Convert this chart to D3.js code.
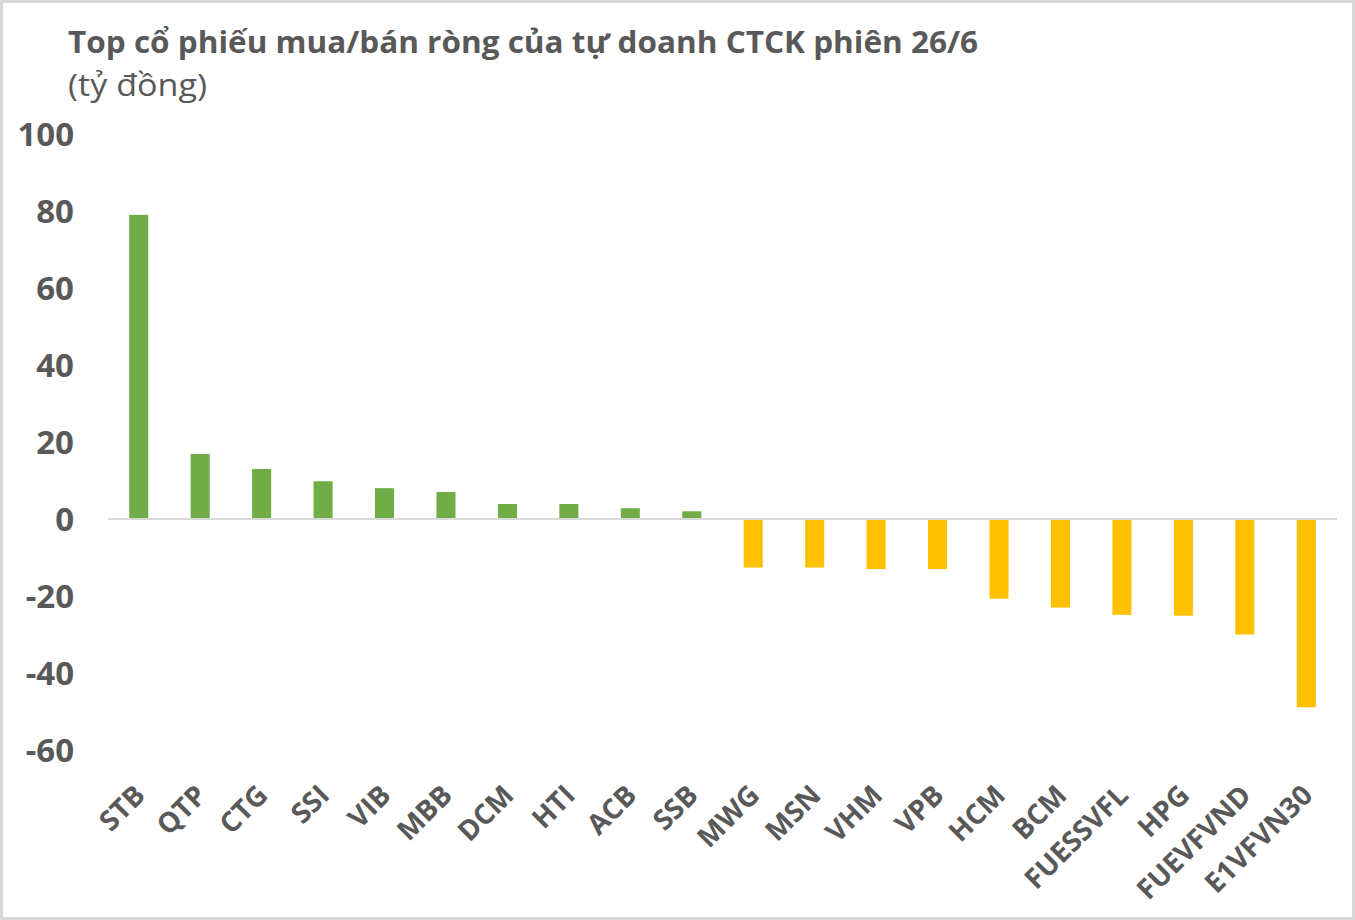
<!DOCTYPE html>
<html>
<head>
<meta charset="utf-8">
<script src="https://cdn.jsdelivr.net/npm/d3@7"></script>
<style>
  html, body { margin: 0; padding: 0; background: #fff; }
  svg { display: block; }
</style>
</head>
<body>
<svg id="chart" width="1355" height="920"></svg>
<script>
const categories = ["STB","QTP","CTG","SSI","VIB","MBB","DCM","HTI","ACB","SSB","MWG","MSN","VHM","VPB","HCM","BCM","FUESSVFL","HPG","FUEVFVND","E1VFVN30"];
const values = [79, 16.9, 13, 9.8, 8, 7, 3.9, 3.9, 2.8, 2, -12.6, -12.6, -13, -13, -20.7, -23, -24.9, -25.1, -30, -48.9];
const yTicks = [100, 80, 60, 40, 20, 0, -20, -40, -60];
const titleText = "Top cổ phiếu mua/bán ròng của tự doanh CTCK phiên 26/6";
const subtitleText = "(tỷ đồng)";

const W = 1355, H = 920;
const svg = d3.select("#chart");
const gray = "#595959";

// outer border
svg.append("rect").attr("x", 1.5).attr("y", 1.5).attr("width", W - 3).attr("height", H - 3)
  .attr("fill", "#fff").attr("stroke", "#d9d9d9").attr("stroke-width", 3);

// title
svg.append("text").attr("x", 68).attr("y", 53)
  .attr("font-family", "'Open Sans', sans-serif").attr("font-weight", 700)
  .attr("font-size", 31).attr("fill", gray)
  .attr("textLength", 910).attr("lengthAdjust", "spacingAndGlyphs")
  .text(titleText);
svg.append("text").attr("x", 68).attr("y", 96)
  .attr("font-family", "'Open Sans', sans-serif").attr("font-weight", 400)
  .attr("font-size", 31).attr("fill", gray)
  .attr("textLength", 139).attr("lengthAdjust", "spacingAndGlyphs")
  .text(subtitleText);

const x = d3.scaleBand().domain(categories).range([108, 1337]).paddingInner(0.69).paddingOuter(0.345);
const y = d3.scaleLinear().domain([-60, 100]).range([750, 134]);

// y axis labels (no line)
const yAxis = d3.axisLeft(y).tickValues(yTicks).tickSize(0).tickPadding(0).tickFormat(d => String(d));
const gy = svg.append("g").attr("transform", "translate(74,0)").call(yAxis);
gy.select(".domain").remove();
gy.selectAll("text")
  .attr("font-family", "'Open Sans', sans-serif").attr("font-weight", 700)
  .attr("font-size", 33).attr("fill", gray).attr("dy", "0.36em");

// bars
svg.append("g").selectAll("rect").data(values).join("rect")
  .attr("x", (d, i) => x(categories[i]))
  .attr("width", x.bandwidth())
  .attr("y", d => y(Math.max(0, d)))
  .attr("height", d => Math.abs(y(d) - y(0)))
  .attr("fill", d => d >= 0 ? "#70AD47" : "#FFC000");

// zero line
svg.append("line").attr("x1", 108).attr("x2", 1337).attr("y1", y(0)).attr("y2", y(0))
  .attr("stroke", "#d9d9d9").attr("stroke-width", 2);

// x axis labels
const xAxis = d3.axisBottom(x).tickSize(0).tickPadding(0);
const gx = svg.append("g").call(xAxis);
gx.select(".domain").remove();
gx.selectAll(".tick").attr("transform", d => `translate(${x(d) + x.bandwidth() / 2 + 8},797)`);
gx.selectAll("text")
  .attr("y", 0).attr("dy", 0).attr("x", 0)
  .attr("text-anchor", "end")
  .attr("transform", "rotate(-45)")
  .attr("font-family", "'Open Sans', sans-serif").attr("font-weight", 700)
  .attr("font-size", 28).attr("fill", gray);
</script>
</body>
</html>
